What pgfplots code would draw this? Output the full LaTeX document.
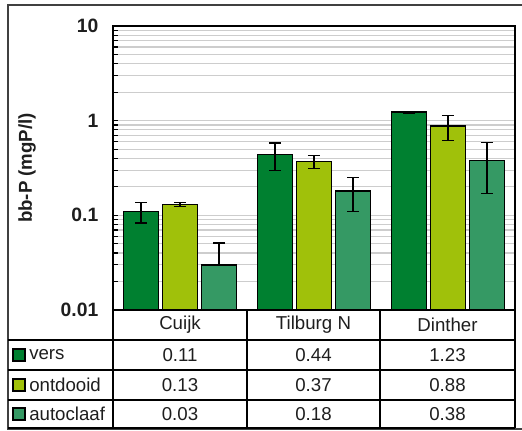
\documentclass[border=0pt]{standalone}
\usepackage{fontspec}
\setmainfont{Liberation Sans}
\usepackage{pgfplots}
\usepackage{pgfplotstable}
\pgfplotsset{compat=1.18}

\definecolor{cvers}{RGB}{0,128,48}
\definecolor{contd}{RGB}{160,193,10}
\definecolor{cauto}{RGB}{53,153,100}
\definecolor{gridgray}{RGB}{205,205,205}
\definecolor{txt}{RGB}{30,30,30}

% bb-P per location: mean and error (mg P/l)
\pgfplotstableread{
x vers versE ont ontE aut autEp autEm
0 0.11 0.027 0.13 0.006 0.03 0.021 0
1 0.44 0.14  0.37 0.06  0.18 0.07  0.07
2 1.23 0.03  0.88 0.26  0.38 0.21  0.21
}\bpdata

\begin{document}
\begin{tikzpicture}[x=0.75pt,y=0.75pt,font=\fontsize{14}{16}\selectfont,text=txt]
\useasboundingbox (0,0) rectangle (522,430);

\begin{axis}[
  at={(84.75pt,90pt)}, anchor=south west,
  scale only axis, width=301.5pt, height=213pt,
  xmin=-0.5, xmax=2.5, ymin=0.01, ymax=10,
  ymode=log, log origin=infty,
  xtick=\empty,
  ytick={0.01,0.1,1,10}, yticklabels={0.01,0.1,1,10},
  minor ytick={0.02,0.03,0.04,0.05,0.06,0.07,0.08,0.09,
               0.2,0.3,0.4,0.5,0.6,0.7,0.8,0.9,
               2,3,4,5,6,7,8,9},
  ytick pos=left,
  yticklabel style={font=\fontsize{14.5}{16}\selectfont\bfseries, text=txt, xshift=-7.5pt},
  ymajorgrids, yminorgrids,
  major grid style={gridgray, line width=0.9pt},
  minor grid style={gridgray, line width=0.9pt},
  tick align=inside, major tick length=4pt, minor tick length=3.5pt,
  tick style={black, line width=0.9pt},
  axis line style={black, line width=1.2pt},
  ybar=3pt, bar width=26.25pt,
  error bars/y dir=both, error bars/y explicit,
  error bars/error bar style={black, line width=1pt},
  error bars/error mark options={rotate=90, mark size=4.5pt, line width=1pt, black},
]
\addplot[draw=black, line width=1.1pt, fill=cvers]
  table[x=x, y=vers, y error=versE] {\bpdata};
\addplot[draw=black, line width=1.1pt, fill=contd]
  table[x=x, y=ont, y error=ontE] {\bpdata};
\addplot[draw=black, line width=1.1pt, fill=cauto]
  table[x=x, y=aut, y error plus=autEp, y error minus=autEm] {\bpdata};
\end{axis}

% y axis title
\node[rotate=90, font=\fontsize{14}{16}\selectfont\bfseries] at (27,262) {bb-P (mgP/l)};

% outer chart frame
\draw[line width=1.1pt, black!75] (8,1) rectangle (540,425);

% data table grid
\begin{scope}[line width=0.9pt, black]
  \foreach \yy in {90,60,30,2} \draw (8,\yy) -- (515,\yy);
  \foreach \xx in {113,247,380,515} \draw (\xx,120) -- (\xx,2);
\end{scope}

% category names
\node at (180,105) {Cuijk};
\node at (313.5,105) {Tilburg N};
\node at (447.5,105) {Dinther};

% series keys
\draw[fill=cvers, line width=0.9pt] (13,69) rectangle (25,81);
\draw[fill=contd, line width=0.9pt] (13,39) rectangle (25,51);
\draw[fill=cauto, line width=0.9pt] (13,10) rectangle (25,22);
\node[anchor=west, inner sep=0pt] at (29,75) {vers};
\node[anchor=west, inner sep=0pt] at (29,45) {ontdooid};
\node[anchor=west, inner sep=0pt] at (29,16) {autoclaaf};

% values
\node at (180,75) {0.11};   \node at (313.5,75) {0.44}; \node at (447.5,75) {1.23};
\node at (180,45) {0.13};   \node at (313.5,45) {0.37}; \node at (447.5,45) {0.88};
\node at (180,16) {0.03};   \node at (313.5,16) {0.18}; \node at (447.5,16) {0.38};
\end{tikzpicture}
\end{document}
